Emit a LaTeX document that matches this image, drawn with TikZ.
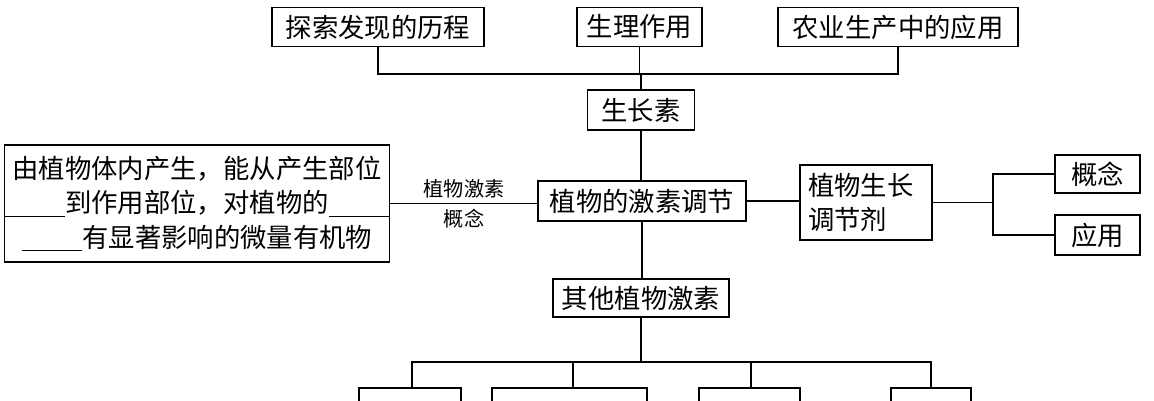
\documentclass[tikz,border=0pt]{standalone}
\usepackage{fontspec}
\setmainfont{Noto Sans CJK SC}
\begin{document}
\begin{tikzpicture}[x=0.02cm,y=-0.02cm,
  bx/.style 2 args={draw,line width=0.9pt,inner sep=0pt,font=\fontsize{15}{18}\selectfont,
     minimum width=#1*0.02cm,minimum height=#2*0.02cm,align=center},
  ln/.style={line width=0.9pt}]
\useasboundingbox (0,0) rectangle (1154,400);
\newcommand{\blank}{\rule[-2pt]{2.3em}{0.5pt}}
\node[bx={212}{39}] (t1) at (378,27) {探索发现的历程};
\node[bx={125}{39}] (t2) at (639.5,27) {生理作用};
\node[bx={240}{39}] (t3) at (898,27) {农业生产中的应用};
\node[bx={107}{40}] (gz) at (641,110) {生长素};
\node[bx={208}{40}] (c) at (642,201) {植物的激素调节};
\node[bx={378}{117},font=\fontsize{15}{19.5}\selectfont] (l) at (197,203.5) {由植物体内产生，能从产生部位\\\blank 到作用部位，对植物的\blank\\\blank 有显著影响的微量有机物};
\node[font=\fontsize{11.5}{15}\selectfont,align=center] (lab) at (464,204) {植物激素\\[2pt]概念};
\node[bx={132}{75},align=left,text width=116*0.02cm,font=\fontsize{15}{19}\selectfont] (r) at (866,202.5) {植物生长\\调节剂};
\node[bx={85}{38}] (g1) at (1097.5,174) {概念};
\node[bx={85}{40}] (g2) at (1097.5,235) {应用};
\node[bx={176}{38}] (o) at (641,298) {其他植物激素};
\begin{scope}
\clip (0,0) rectangle (1154,400);
\draw[ln] (359,388) rectangle (461,430);
\draw[ln] (492,388) rectangle (647,430);
\draw[ln] (699,388) rectangle (800,430);
\draw[ln] (891,388) rectangle (971,430);
\end{scope}
\coordinate (b1) at (412,388); \coordinate (b2) at (573,388);
\coordinate (b3) at (751,388); \coordinate (b4) at (931,388);
\draw[ln] (t1.south) -- (t1.south|-0,74) -| (t3.south);
\draw[ln] (t2.south) -- (t2.south|-0,74);
\draw[ln] (gz.north) -- (gz.north|-0,74);
\draw[ln] (gz.south) -- (gz.south|-c.north);
\draw[ln] (l.east) -- (c.west|-l.east);
\draw[ln] (c.east) -- (r.west|-c.east);
\draw[ln] (r.east) -- (993,202.5);
\draw[ln] (g1.west) -- (993,174) -- (993,235) -- (g2.west);
\draw[ln] (c.south) -- (c.south|-o.north);
\draw[ln] (o.south) -- (641,362);
\draw[ln] (b1) -- (412,362) -- (931,362) -- (b4);
\draw[ln] (b2) -- (573,362);
\draw[ln] (b3) -- (751,362);
\end{tikzpicture}
\end{document}
